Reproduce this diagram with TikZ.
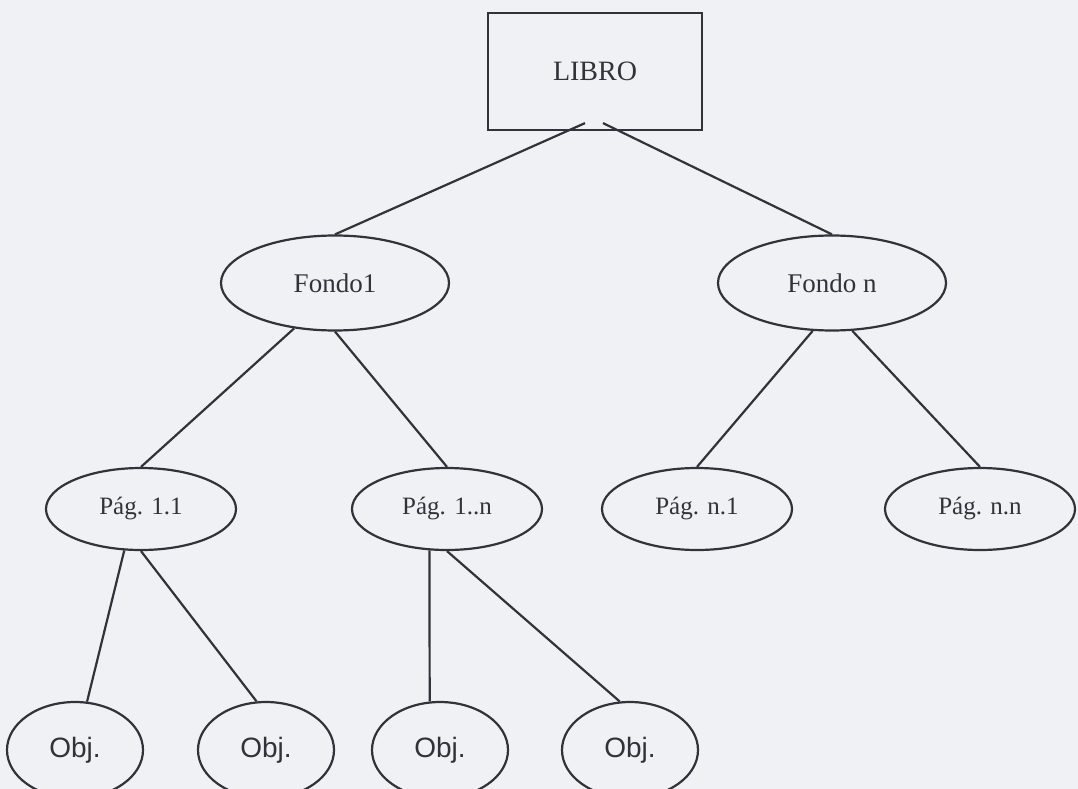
\documentclass[tikz,border=0pt]{standalone}
\usepackage{fontspec}
\setmainfont{Liberation Serif}
\newfontfamily\objfont{Liberation Sans}
\usetikzlibrary{shapes.geometric,calc}
\definecolor{papel}{RGB}{240,241,244}
\definecolor{tinta}{RGB}{50,50,58}
\begin{document}
\begin{tikzpicture}[x=1pt,y=-1pt,line width=2.2pt,
		nodo/.style={draw=tinta,text=tinta,ellipse,inner sep=0pt},
		fondo/.style={nodo,minimum width=228pt,minimum height=95pt,font=\fontsize{27}{30}\selectfont},
		pag/.style={nodo,minimum width=190pt,minimum height=82pt,font=\fontsize{25}{28}\selectfont},
		obj/.style={nodo,minimum width=136pt,minimum height=96pt,font=\objfont\fontsize{28}{30}\selectfont}]
				\fill[papel] (0,0) rectangle (1078,789);
				\useasboundingbox (0,0) rectangle (1078,789);
				\node[draw=tinta,text=tinta,minimum width=214pt,minimum height=117pt,font=\fontsize{28}{30}\selectfont] (libro) at (595,71.5) {LIBRO};
				\node[fondo] (fondo1) at (335,283) {Fondo1};
				\node[fondo] (fondon) at (832,283) {Fondo n};
				\node[pag] (pag11) at (141,509) {Pág. 1.1};
				\node[pag] (pag1n) at (447,509) {Pág. 1..n};
				\node[pag] (pagn1) at (697,509) {Pág. n.1};
				\node[pag] (pagnn) at (980,509) {Pág. n.n};
				\node[obj] (obj1) at (75,750) {Obj.};
				\node[obj] (obj2) at (266,750) {Obj.};
				\node[obj] (obj3) at (440,750) {Obj.};
				\node[obj] (obj4) at (630,750) {Obj.};
				\draw[tinta] ($(libro.south)+(-10,-8)$) -- (fondo1.north);
				\draw[tinta] ($(libro.south)+(8,-8)$) -- (fondon.north);
				\draw[tinta] (fondo1.228) -- (pag11.north);
				\draw[tinta] (fondo1.south) -- (pag1n.north);
				\draw[tinta] (fondon.248) -- (pagn1.north);
				\draw[tinta] (fondon.293) -- (pagnn.north);
				\draw[tinta] (pag11.248) -- (obj1.76);
				\draw[tinta] (pag11.south) -- (obj2.101);
				\draw[tinta] (pag1n.247) -- (obj3.102);
				\draw[tinta] (pag1n.south) -- (obj4.102);
			\end{tikzpicture}
\end{document}
